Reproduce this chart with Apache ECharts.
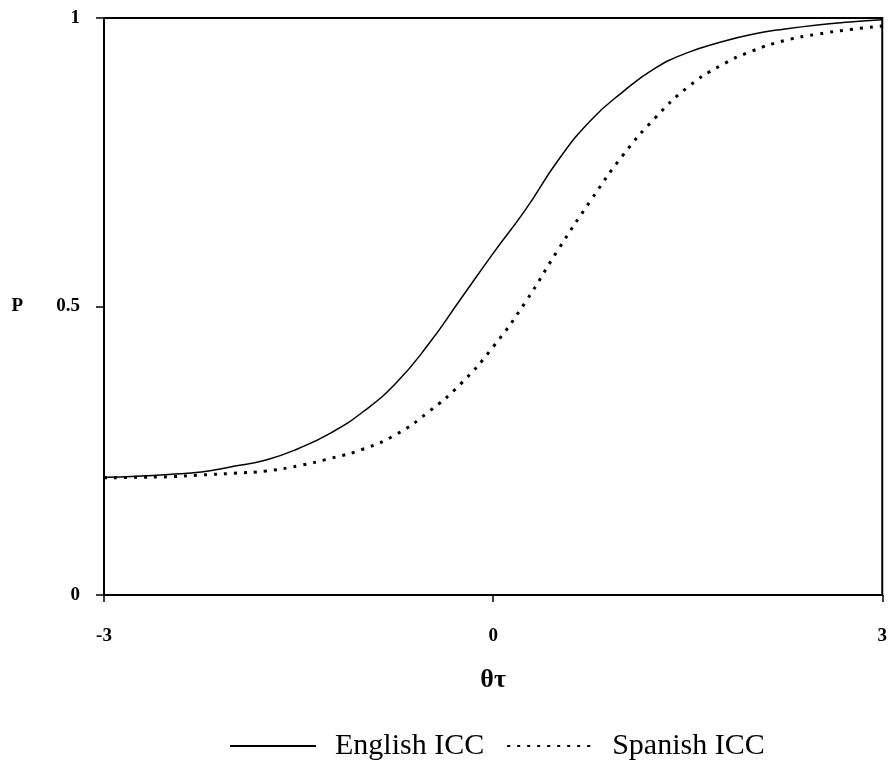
<!DOCTYPE html>
<html>
<head>
<meta charset="utf-8">
<script src="https://cdn.jsdelivr.net/npm/echarts@6/dist/echarts.min.js"></script>
<style>
  html, body { margin: 0; padding: 0; background: #fff; }
  #chart { width: 890px; height: 761px; }
</style>
</head>
<body>
<div id="chart"></div>
<script>
  // theta values (x axis)
  var theta = [-3, -2.75, -2.5, -2.25, -2, -1.75, -1.5, -1.25, -1, -0.75, -0.5, -0.25,
    0, 0.25, 0.5, 0.75, 1, 1.25, 1.5, 1.75, 2, 2.25, 2.5, 2.75, 3];
  var englishP = [0.204, 0.206, 0.209, 0.213, 0.223, 0.234, 0.254, 0.281, 0.318, 0.367, 0.434, 0.513,
    0.592, 0.668, 0.753, 0.822, 0.872, 0.913, 0.940, 0.958, 0.972, 0.981, 0.988, 0.993, 0.997];
  var spanishP = [0.203, 0.204, 0.205, 0.208, 0.211, 0.215, 0.224, 0.237, 0.253, 0.278, 0.317, 0.366,
    0.430, 0.508, 0.598, 0.683, 0.762, 0.827, 0.880, 0.917, 0.943, 0.961, 0.972, 0.980, 0.986];
  var seriesNames = ['English ICC', 'Spanish ICC'];

  function pairs(xs, ys) {
    var out = [];
    for (var i = 0; i < xs.length; i++) out.push([xs[i], ys[i]]);
    return out;
  }

  var font = '"Liberation Serif", "DejaVu Serif", serif';
  var chart = echarts.init(document.getElementById('chart'));
  chart.setOption({
    animation: false,
    backgroundColor: '#fff',
    grid: {
      left: 104, right: 7, top: 18, bottom: 166,
      show: true, borderColor: '#000', borderWidth: 2
    },
    legend: {
      top: 726,
      left: 224,
      itemWidth: 86,
      itemHeight: 14,
      itemGap: 22,
      data: seriesNames,
      itemStyle: { opacity: 0 },
      textStyle: { fontFamily: font, fontSize: 30, color: '#000', padding: [0, 0, 0, 14] }
    },
    xAxis: {
      type: 'value',
      min: -3, max: 3, interval: 3,
      name: 'θτ',
      nameLocation: 'middle',
      nameGap: 72,
      nameTextStyle: { fontFamily: font, fontSize: 26, fontWeight: 'bold', color: '#000' },
      axisLine: { onZero: false, lineStyle: { color: '#000', width: 2 } },
      axisTick: { show: true, length: 7, lineStyle: { color: '#000', width: 1.5 } },
      axisLabel: { margin: 32, fontFamily: font, fontSize: 19, fontWeight: 'bold', color: '#000' },
      splitLine: { show: false }
    },
    yAxis: {
      type: 'value',
      min: 0, max: 1, interval: 0.5,
      name: 'P',
      nameLocation: 'middle',
      nameRotate: 0,
      nameGap: 81,
      nameTextStyle: { fontFamily: font, fontSize: 19, fontWeight: 'bold', color: '#000' },
      axisLine: { onZero: false, lineStyle: { color: '#000', width: 2 } },
      axisTick: { show: true, length: 8, lineStyle: { color: '#000', width: 1.5 } },
      axisLabel: { margin: 24, fontFamily: font, fontSize: 19, fontWeight: 'bold', color: '#000' },
      splitLine: { show: false }
    },
    series: [
      {
        name: seriesNames[0],
        type: 'line',
        smooth: true,
        symbol: 'none',
        data: pairs(theta, englishP),
        lineStyle: { color: '#000', width: 1.5, type: 'solid' },
        itemStyle: { color: '#000' }
      },
      {
        name: seriesNames[1],
        type: 'line',
        smooth: true,
        symbol: 'none',
        data: pairs(theta, spanishP),
        lineStyle: { color: '#000', width: 3, type: [3, 7] },
        itemStyle: { color: '#000' }
      }
    ]
  });
</script>
</body>
</html>
